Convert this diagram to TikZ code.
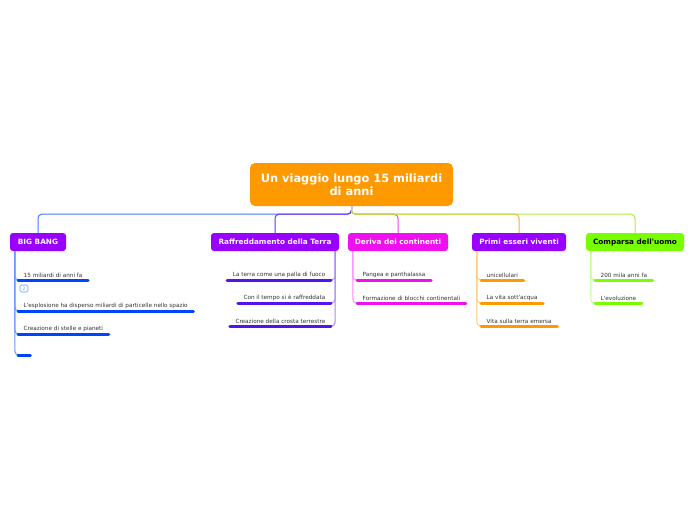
\documentclass[tikz,border=0pt]{standalone}
\usepackage{fontspec}
\setmainfont{DejaVu Sans}[Ligatures=TeXOff]
\usetikzlibrary{calc}
\definecolor{corange}{HTML}{FF9900}
\definecolor{cpurple}{HTML}{9900FF}
\definecolor{cmagenta}{HTML}{EE11EE}
\definecolor{cgreen}{HTML}{77FF00}
\definecolor{ublue}{HTML}{0044FF}
\definecolor{upurple}{HTML}{5511EE}
\definecolor{vblue}{HTML}{6699FF}
\definecolor{vpurple}{HTML}{AA88FF}
\definecolor{vmagenta}{HTML}{FF88FF}
\definecolor{vorange}{HTML}{FFCC77}
\definecolor{vgreen}{HTML}{BBFF88}
\definecolor{lblue}{HTML}{4477FF}
\definecolor{lpurple}{HTML}{6633FF}
\definecolor{lmagenta}{HTML}{EE44EE}
\definecolor{lorange}{HTML}{FFAA33}
\definecolor{lgreen}{HTML}{AAEE44}
\definecolor{txt}{HTML}{333333}
\begin{document}
\begin{tikzpicture}[x=1pt,y=-1pt,
  central/.style={fill=corange, rounded corners=5pt, text=white, font=\bfseries\fontsize{11.4}{13}\selectfont, align=center, minimum width=203pt, minimum height=43pt, inner sep=0pt},
  branch/.style={fill=#1, rounded corners=3pt, font=\bfseries\fontsize{7.3}{8}\selectfont, minimum height=18pt, inner sep=0pt, text=white},
  subl/.style={anchor=south west, font=\fontsize{5.7}{6}\selectfont, text=txt, inner xsep=5.5pt, inner ysep=2.5pt},
  subr/.style={anchor=south east, font=\fontsize{5.7}{6}\selectfont, text=txt, inner xsep=5.5pt, inner ysep=2.5pt},
  uline/.style={draw=#1, line width=3pt, line cap=round},
  vline/.style={draw=#1, line width=1pt, rounded corners=4pt},
  mline/.style={draw=#1, line width=1pt, rounded corners=4pt}]
\useasboundingbox[fill=white] (0,0) rectangle (696,520);

% central
\node[central] (c) at (351.5,184.5) {Un viaggio lungo 15 miliardi\\di anni};

% branches
\node[branch=cpurple, minimum width=56pt] (bb) at (38,242) {BIG BANG};
\node[branch=cpurple, minimum width=128pt] (rf) at (275,242) {Raffreddamento della Terra};
\node[branch=cmagenta, minimum width=100pt] (dc) at (398,242) {Deriva dei continenti};
\node[branch=cpurple, minimum width=94pt] (pe) at (519,242) {Primi esseri viventi};
\node[branch=cgreen, minimum width=98pt, text=black] (cu) at (635,242) {Comparsa dell'uomo};

% main connectors
\draw[mline=lblue] (c.south) -- ++(0,8) -| (bb.north);
\draw[mline=lpurple] (c.south) -- ++(0,8) -| (rf.north);
\draw[mline=lmagenta] (c.south) -- ++(0,8) -| (dc.north);
\draw[mline=lorange] (c.south) -- ++(0,8) -| (pe.north);
\draw[mline=lgreen] (c.south) -- ++(0,8) -| (cu.north);

% BIG BANG subtopics
\node[subl] (b1) at (18,280) {15 miliardi di anni fa};
\node[subl] (b2) at (18,311) {L'esplosione ha disperso miliardi di particelle nello spazio};
\node[subl] (b3) at (18,334) {Creazione di stelle e pianeti};
\node[subl, minimum width=12pt] (b4) at (18,355) {};
\node[draw=vblue, rounded corners=1.5pt, line width=0.6pt, minimum width=8pt, minimum height=7pt, inner sep=0pt, text=vblue, font=\fontsize{4.5}{4.5}\selectfont] (badge) at (24,288.5) {2};
\foreach \n in {b1,b2,b3,b4}{
  \draw[vline=vblue] ([xshift=5pt]bb.south west) |- (\n.south west);
}
\foreach \n in {b1,b2,b3,b4}{
  \draw[uline=ublue] (\n.south west) -- (\n.south east);
}

% Raffreddamento subtopics
\node[subr] (r1) at (331,280) {La terra come una palla di fuoco};
\node[subr] (r2) at (331,303) {Con il tempo si è raffreddata};
\node[subr] (r3) at (331,326) {Creazione della crosta terrestre};
\foreach \n in {r1,r2,r3}{
  \draw[vline=vpurple] ([xshift=-4pt]rf.south east) |- (\n.south east);
}
\foreach \n in {r1,r2,r3}{
  \draw[uline=upurple] (\n.south west) -- (\n.south east);
}

% Deriva subtopics
\node[subl] (d1) at (357,280) {Pangea e panthalassa};
\node[subl] (d2) at (357,303) {Formazione di blocchi continentali};
\foreach \n in {d1,d2}{
  \draw[vline=vmagenta] ([xshift=5pt]dc.south west) |- (\n.south west);
}
\foreach \n in {d1,d2}{
  \draw[uline=cmagenta] (\n.south west) -- (\n.south east);
}

% Primi esseri viventi subtopics
\node[subl] (p1) at (481,280) {unicellulari};
\node[subl] (p2) at (481,303) {La vita sott'acqua};
\node[subl] (p3) at (481,326) {Vita sulla terra emersa};
\foreach \n in {p1,p2,p3}{
  \draw[vline=vorange] ([xshift=5pt]pe.south west) |- (\n.south west);
}
\foreach \n in {p1,p2,p3}{
  \draw[uline=corange] (\n.south west) -- (\n.south east);
}

% Comparsa subtopics
\node[subl] (u1) at (595,280) {200 mila anni fa};
\node[subl] (u2) at (595,303) {L'evoluzione};
\foreach \n in {u1,u2}{
  \draw[vline=vgreen] ([xshift=5pt]cu.south west) |- (\n.south west);
}
\foreach \n in {u1,u2}{
  \draw[uline=cgreen] (\n.south west) -- (\n.south east);
}
\end{tikzpicture}
\end{document}
